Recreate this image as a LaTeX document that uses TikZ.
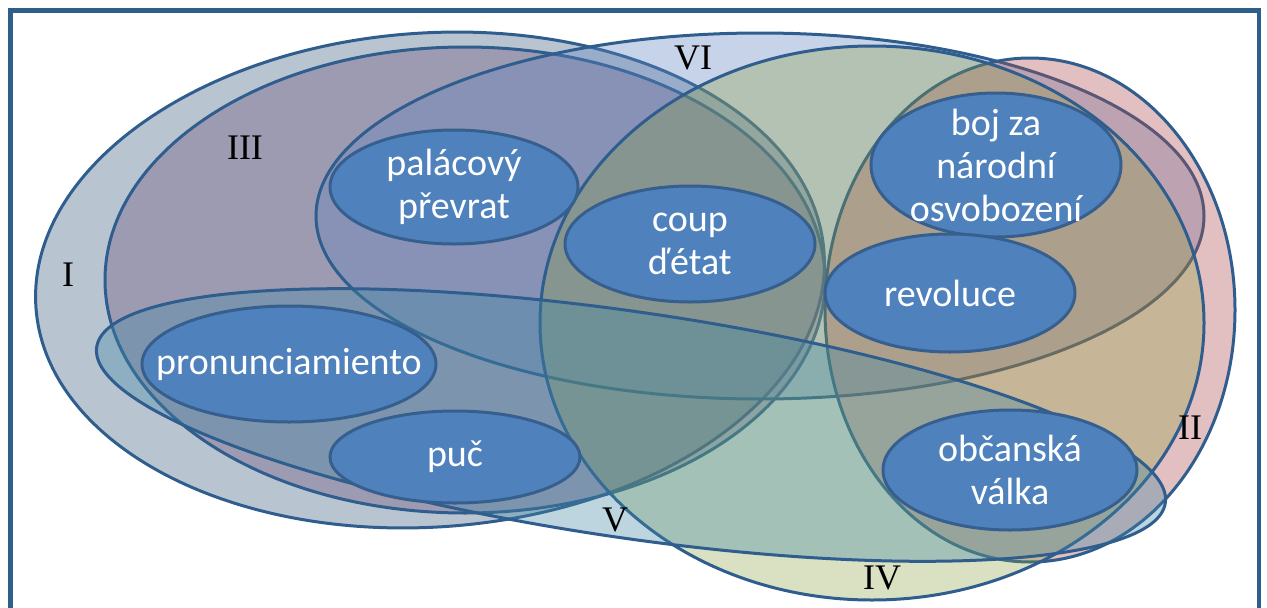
\documentclass[tikz,border=0pt]{standalone}
\usepackage{fontspec}
\setmainfont{Liberation Serif}
\newfontfamily\termfont{Carlito}
\usetikzlibrary{shapes.geometric}

% set fills (drawn translucent, so overlaps darken) and outlines
\definecolor{setI}{HTML}{37567C}
\definecolor{setIII}{HTML}{694F7B}
\definecolor{setVI}{HTML}{5F82BE}
\definecolor{setII}{HTML}{AC484B}
\definecolor{setIV}{HTML}{879E3A}
\definecolor{setV}{HTML}{4087A6}
\definecolor{setline}{HTML}{2F5E8E}
\definecolor{termfill}{HTML}{4F81BD}
\definecolor{termline}{HTML}{365F8E}
\definecolor{framecol}{HTML}{2E5F8A}

\begin{document}
\begin{tikzpicture}[x=1pt, y=-1pt,
  setshape/.style={ellipse, draw=setline, line width=3pt, fill opacity=0.35,
    inner sep=0pt, outer sep=0pt},
  termshape/.style={ellipse, draw=termline, line width=3pt, fill=termfill,
    inner sep=0pt, outer sep=0pt},
  termtext/.style={text=white, align=center, inner sep=0pt,
    font=\termfont\fontsize{38}{43}\selectfont},
  setlabel/.style={text=black, inner sep=0pt, font=\fontsize{36}{40}\selectfont}]

\useasboundingbox (0,0) rectangle (1267,608);
\clip (0,0) rectangle (1267,608);
\fill[white] (0,0) rectangle (1267,608);

% the six overlapping sets
\node[setshape, fill=setI, minimum width=790pt, minimum height=494pt, rotate=4] (setI) at (430,280) {};
\node[setshape, fill=setIII, minimum width=720pt, minimum height=466pt] (setIII) at (465,280) {};
\node[setshape, fill=setVI, minimum width=888pt, minimum height=366pt] (setVI) at (760,216) {};
\node[setshape, fill=setII, minimum width=410pt, minimum height=504pt] (setII) at (1030,310) {};
\node[setshape, fill=setIV, fill opacity=0.3, minimum width=664pt, minimum height=554pt] (setIV) at (872,323) {};
\node[setshape, fill=setV, minimum width=1080pt, minimum height=226pt, rotate=-8.3] (setV) at (631,425) {};

% the terms
\node[termshape, minimum width=248pt, minimum height=114pt] (palace) at (454,187) {};
\node[termshape, minimum width=250pt, minimum height=116pt] (coup) at (690,244) {};
\node[termshape, minimum width=250pt, minimum height=144pt] (liberation) at (996,165) {};
\node[termshape, minimum width=250pt, minimum height=118pt] (revolution) at (950,293) {};
\node[termshape, minimum width=294pt, minimum height=116pt] (pronunc) at (289,364) {};
\node[termshape, minimum width=250pt, minimum height=92pt] (putsch) at (455,457) {};
\node[termshape, minimum width=254pt, minimum height=120pt] (civilwar) at (1010,470) {};

\node[termtext] (palace-text) at (palace.center) {palácový\\převrat};
\node[termtext] (coup-text) at (coup.center) {coup\\ďétat};
\node[termtext] (liberation-text) at (liberation.center) {boj za\\národní\\osvobození};
\node[termtext] (revolution-text) at (revolution.center) {revoluce};
\node[termtext] (pronunc-text) at (pronunc.center) {pronunciamiento};
\node[termtext] (putsch-text) at (putsch.center) {puč};
\node[termtext] (civilwar-text) at (civilwar.center) {občanská\\válka};

% set numerals
\node[setlabel] (labI) at (68,275) {I};
\node[setlabel] (labIII) at (245,148) {III};
\node[setlabel] (labVI) at (693,58) {VI};
\node[setlabel] (labII) at (1190,428) {II};
\node[setlabel] (labV) at (615,520) {V};
\node[setlabel] (labIV) at (882,578) {IV};

% frame
\draw[framecol, line width=4.5pt] (10.5,10.5) rectangle (1259,611);
\end{tikzpicture}
\end{document}
